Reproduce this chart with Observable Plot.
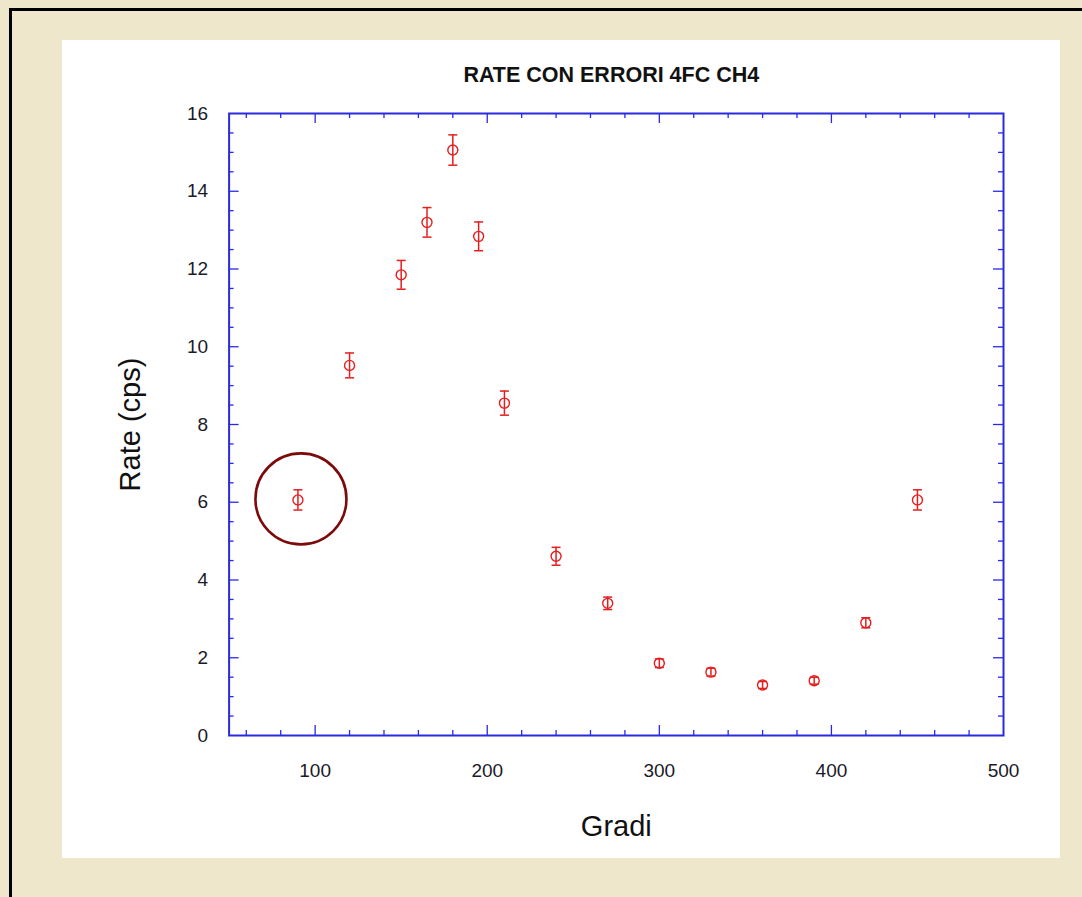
<!DOCTYPE html>
<html>
<head>
<meta charset="utf-8">
<script src="https://cdn.jsdelivr.net/npm/d3@7"></script>
<script src="https://cdn.jsdelivr.net/npm/@observablehq/plot@0.6"></script>
<style>
  html, body { margin: 0; padding: 0; overflow: hidden; }
  body { width: 1082px; height: 897px; background: #efe7cc; position: relative; font-family: "Liberation Sans", Arial, sans-serif; }
  #frameTop { position: absolute; left: 9px; top: 8px; width: 1073px; height: 3px; background: #000; }
  #frameLeft { position: absolute; left: 9px; top: 8px; width: 3px; height: 889px; background: #000; }
  #panel { position: absolute; left: 62px; top: 40px; width: 998px; height: 818px; background: #fff; }
  #chart { position: absolute; left: 0; top: 0; }
</style>
</head>
<body>
<div id="frameTop"></div>
<div id="frameLeft"></div>
<div id="panel"></div>
<div id="chart"></div>
<script>
// Data
const gradi = [90, 120, 150, 165, 180, 195, 210, 240, 270, 300, 330, 360, 390, 420, 450];
const rate  = [6.06, 9.52, 11.85, 13.2, 15.06, 12.84, 8.55, 4.61, 3.40, 1.86, 1.63, 1.30, 1.41, 2.90, 6.06];
const errore = [0.26, 0.32, 0.37, 0.38, 0.39, 0.37, 0.31, 0.23, 0.16, 0.11, 0.10, 0.09, 0.09, 0.13, 0.26];

const xTickLabels = [100, 200, 300, 400, 500];
const yTickLabels = [0, 2, 4, 6, 8, 10, 12, 14, 16];
const xMajorTicks = [100, 200, 300, 400];
const xMinorTicks = [60, 80, 120, 140, 160, 180, 220, 240, 260, 280, 320, 340, 360, 380, 420, 440, 460, 480];
const yMajorTicks = [2, 4, 6, 8, 10, 12, 14];
const yMinorTicks = d3.range(0.5, 16, 0.5).filter(v => v % 2 !== 0);

const highlighted = [{x: 90, y: 6.06}];

const data = gradi.map((g, i) => ({x: g, y: rate[i], e: errore[i]}));

const blue = "#2a2ae0";
const red = "#e41e1e";
const W = 1082, H = 897;
const mL = 228.6, mR = 79, mT = 113, mB = 162;
const pw = W - mL - mR, ph = H - mT - mB;

const capSymbol = {
  draw(ctx, size) {
    const w = Math.sqrt(size / Math.PI);
    ctx.moveTo(-w, 0);
    ctx.lineTo(w, 0);
  }
};

const chart = Plot.plot({
  width: W,
  height: H,
  marginLeft: mL, marginRight: mR, marginTop: mT, marginBottom: mB,
  style: {background: "transparent", fontFamily: "'Liberation Sans', Arial, sans-serif", overflow: "visible"},
  x: {domain: [50, 500], axis: null},
  y: {domain: [0, 16], axis: null},
  marks: [
    // ticks (inward) on all four sides
    Plot.tickX(xMajorTicks, {x: d => d, stroke: blue, strokeWidth: 1.3, insetTop: ph - 10}),
    Plot.tickX(xMinorTicks, {x: d => d, stroke: blue, strokeWidth: 1.3, insetTop: ph - 5}),
    Plot.tickX(xMajorTicks, {x: d => d, stroke: blue, strokeWidth: 1.3, insetBottom: ph - 10}),
    Plot.tickX(xMinorTicks, {x: d => d, stroke: blue, strokeWidth: 1.3, insetBottom: ph - 5}),
    Plot.tickY(yMajorTicks, {y: d => d, stroke: blue, strokeWidth: 1.3, insetRight: pw - 10}),
    Plot.tickY(yMinorTicks, {y: d => d, stroke: blue, strokeWidth: 1.3, insetRight: pw - 5}),
    Plot.tickY(yMajorTicks, {y: d => d, stroke: blue, strokeWidth: 1.3, insetLeft: pw - 10}),
    Plot.tickY(yMinorTicks, {y: d => d, stroke: blue, strokeWidth: 1.3, insetLeft: pw - 5}),
    Plot.frame({stroke: blue, strokeWidth: 2}),
    // tick labels
    Plot.axisX(xTickLabels, {anchor: "bottom", tickSize: 0, tickPadding: 28, fontSize: 19, fill: "#1a1a2a", label: null}),
    Plot.axisY(yTickLabels, {anchor: "left", tickSize: 0, tickPadding: 21, fontSize: 19, fill: "#1a1a2a", label: null}),
    // titles
    Plot.text(["RATE CON ERRORI 4FC CH4"], {frameAnchor: "top", lineAnchor: "middle", textAnchor: "middle", dx: -5, dy: -38, fontSize: 21.5, fontWeight: "bold", fill: "#111"}),
    Plot.text(["Gradi"], {frameAnchor: "bottom", lineAnchor: "middle", textAnchor: "middle", dy: 91, fontSize: 29, fill: "#111"}),
    Plot.text(["Rate (cps)"], {frameAnchor: "left", lineAnchor: "middle", textAnchor: "middle", dx: -98, rotate: -90, fontSize: 29, fill: "#111"}),
    // error bars
    Plot.ruleX(data, {x: "x", y1: d => d.y - d.e, y2: d => d.y + d.e, stroke: red, strokeWidth: 1.5}),
    Plot.dot(data, {x: "x", y: d => d.y - d.e, symbol: capSymbol, r: 4.5, stroke: red, strokeWidth: 1.5}),
    Plot.dot(data, {x: "x", y: d => d.y + d.e, symbol: capSymbol, r: 4.5, stroke: red, strokeWidth: 1.5}),
    Plot.dot(data, {x: "x", y: "y", r: 5, stroke: red, strokeWidth: 1.4, fill: "none"}),
    // highlight circle annotation
    Plot.dot(highlighted, {x: "x", y: "y", r: 45.5, dx: 3, dy: -1, stroke: "#7d0a0a", strokeWidth: 2.6, fill: "none", ariaLabel: "highlight"})
  ]
});

// soft shadow around the highlight circle
const svg = d3.select(chart);
const defs = svg.insert("defs", ":first-child");
const f = defs.append("filter").attr("id", "glow").attr("x", "-50%").attr("y", "-50%").attr("width", "200%").attr("height", "200%");
f.append("feGaussianBlur").attr("in", "SourceAlpha").attr("stdDeviation", 6).attr("result", "b");
f.append("feComponentTransfer").attr("in", "b").attr("result", "c")
  .append("feFuncA").attr("type", "linear").attr("slope", 0.35);
const m = f.append("feMerge");
m.append("feMergeNode").attr("in", "c");
m.append("feMergeNode").attr("in", "SourceGraphic");
svg.selectAll("g[aria-label='highlight']").attr("filter", "url(#glow)");

document.getElementById("chart").appendChild(chart);
</script>
</body>
</html>
